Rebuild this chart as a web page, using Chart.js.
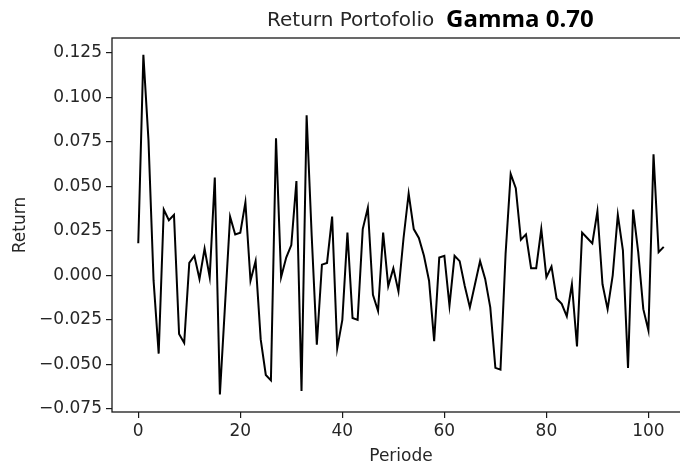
<!DOCTYPE html>
<html>
<head>
<meta charset="utf-8">
<script src="https://cdn.jsdelivr.net/npm/chart.js@4.4.1/dist/chart.umd.min.js"></script>
<style>
  html, body { margin: 0; padding: 0; background: #fff; overflow: hidden; }
  #wrap { position: relative; width: 680px; height: 467px; overflow: hidden; }
  #wrap canvas { position: absolute; left: 0; top: 0; }
</style>
</head>
<body>
<div id="wrap"><canvas id="returnChart" width="700" height="467"></canvas></div>
<script>
// Period index on the x axis
const periods = [
  0, 1, 2, 3, 4, 5, 6, 7, 8, 9, 10, 11, 12, 13, 14, 15, 16, 17, 18, 19,
  20, 21, 22, 23, 24, 25, 26, 27, 28, 29, 30, 31, 32, 33, 34, 35, 36, 37, 38, 39,
  40, 41, 42, 43, 44, 45, 46, 47, 48, 49, 50, 51, 52, 53, 54, 55, 56, 57, 58, 59,
  60, 61, 62, 63, 64, 65, 66, 67, 68, 69, 70, 71, 72, 73, 74, 75, 76, 77, 78, 79,
  80, 81, 82, 83, 84, 85, 86, 87, 88, 89, 90, 91, 92, 93, 94, 95, 96, 97, 98, 99,
  100, 101, 102, 103
];

// Portfolio return per period
const returns = [
  0.018, 0.124, 0.076, -0.003, -0.044, 0.037, 0.031, 0.034, -0.033, -0.038,
  0.007, 0.011, -0.002, 0.015, -0.001, 0.055, -0.067, -0.017, 0.033, 0.023,
  0.024, 0.041, -0.003, 0.008, -0.036, -0.056, -0.059, 0.077, -0.001, 0.010,
  0.017, 0.053, -0.065, 0.090, 0.022, -0.039, 0.006, 0.007, 0.033, -0.041,
  -0.025, 0.024, -0.024, -0.025, 0.026, 0.038, -0.011, -0.020, 0.024, -0.006,
  0.004, -0.009, 0.021, 0.046, 0.026, 0.021, 0.011, -0.003, -0.037, 0.010,
  0.011, -0.017, 0.011, 0.008, -0.006, -0.018, -0.005, 0.008, -0.002, -0.018,
  -0.052, -0.053, 0.012, 0.057, 0.049, 0.020, 0.023, 0.004, 0.004, 0.026,
  -0.001, 0.005, -0.013, -0.016, -0.023, -0.005, -0.040, 0.024, 0.021, 0.018,
  0.036, -0.005, -0.019, 0.000, 0.034, 0.014, -0.052, 0.037, 0.013, -0.019,
  -0.031, 0.068, 0.013, 0.016
];

const xTicks = [0, 20, 40, 60, 80, 100];
const yTicks = [-0.075, -0.05, -0.025, 0, 0.025, 0.05, 0.075, 0.1, 0.125];

const titleMain = 'Return Portofolio';
const titleTag = 'Gamma 0.70';

const textColor = '#262626';
const axisColor = '#1a1a1a';
const baseFont = { family: '"DejaVu Sans", sans-serif', size: 17 };

// matplotlib style tick text, with a real minus sign
const fmtY = v => (v < 0 ? '\u2212' : '') + Math.abs(v).toFixed(3);

// Axes box (top and right sides included)
const framePlugin = {
  id: 'frame',
  afterDraw(chart) {
    const { ctx, chartArea: a } = chart;
    ctx.save();
    ctx.strokeStyle = axisColor;
    ctx.lineWidth = 1.3;
    ctx.strokeRect(a.left, a.top, a.right - a.left, a.bottom - a.top);
    ctx.restore();
  }
};

// Title is two pieces in different fonts
const titlePlugin = {
  id: 'splitTitle',
  afterDraw(chart) {
    const ctx = chart.ctx;
    ctx.save();
    ctx.textBaseline = 'alphabetic';
    ctx.textAlign = 'left';
    ctx.fillStyle = textColor;
    ctx.font = '20px "DejaVu Sans"';
    ctx.fillText(titleMain, 267, 26);
    ctx.fillStyle = '#000';
    ctx.font = 'bold 24px "Open Sans"';
    ctx.fillText(titleTag, 446, 27);
    ctx.restore();
  }
};

const ctx = document.getElementById('returnChart').getContext('2d');
new Chart(ctx, {
  type: 'line',
  data: {
    datasets: [{
      data: periods.map((p, i) => ({ x: p, y: returns[i] })),
      borderColor: '#000',
      borderWidth: 2,
      pointRadius: 0,
      tension: 0,
      fill: false
    }]
  },
  options: {
    responsive: false,
    animation: false,
    layout: { padding: { top: 38, right: 10, left: 0, bottom: 0 } },
    plugins: {
      legend: { display: false },
      tooltip: { enabled: false },
      title: { display: false }
    },
    scales: {
      x: {
        type: 'linear',
        min: -5.15,
        max: 108.15,
        afterBuildTicks: s => { s.ticks = xTicks.map(v => ({ value: v })); },
        afterFit: s => { s.height = 55; },
        border: { display: false },
        grid: { drawOnChartArea: false, tickLength: 6, color: axisColor, lineWidth: 1.2 },
        ticks: { color: textColor, font: baseFont, padding: 3, maxRotation: 0, autoSkip: false, callback: v => String(v) },
        title: { display: true, text: 'Periode', color: textColor, font: baseFont, padding: { top: 0, bottom: 0 } }
      },
      y: {
        type: 'linear',
        min: -0.0768,
        max: 0.1334,
        afterBuildTicks: s => { s.ticks = yTicks.map(v => ({ value: v })); },
        afterFit: s => { s.width = 112; },
        border: { display: false },
        grid: { drawOnChartArea: false, tickLength: 6, color: axisColor, lineWidth: 1.2 },
        ticks: { color: textColor, font: baseFont, padding: 4, autoSkip: false, callback: v => fmtY(v) },
        title: { display: true, text: 'Return', color: textColor, font: baseFont, padding: { top: 10, bottom: 0 } }
      }
    }
  },
  plugins: [framePlugin, titlePlugin]
});
</script>
</body>
</html>
